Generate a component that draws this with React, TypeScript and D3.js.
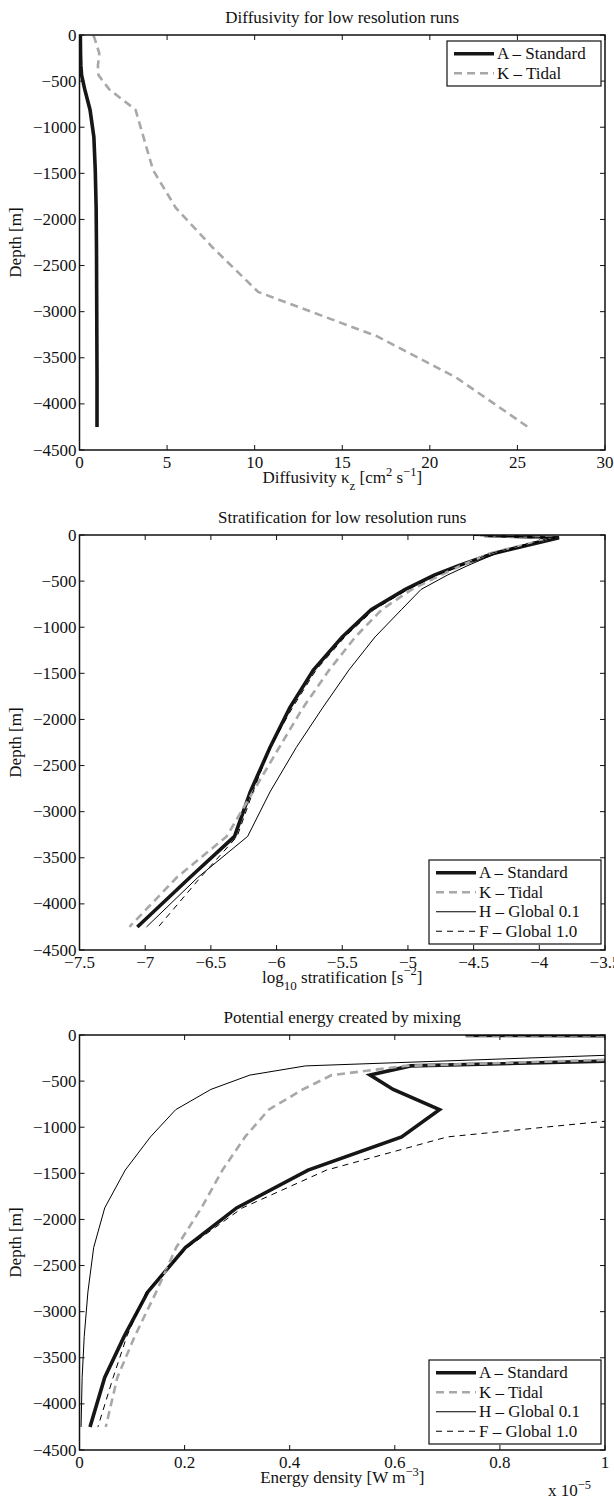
import React from 'react';
import * as d3 from 'd3';

// model depths (m)
const depths = [-5, -30, -200, -335, -435, -590, -810, -1105, -1465, -1875, -2304, -2786, -3268, -3714, -4250];

// Panel 1: diffusivity (cm^2 s^-1)
const diffA = [0.05, 0.05, 0.06, 0.08, 0.12, 0.3, 0.6, 0.82, 0.9, 0.95, 0.97, 0.98, 0.99, 1.0, 1.0];
const diffK = [0.79, 0.85, 1.13, 1.05, 1.08, 1.7, 3.2, 3.65, 4.2, 5.5, 7.6, 10.2, 17.0, 21.5, 25.6];

// Panel 2: log10 stratification
const stratA = [-4.42, -3.85, -4.35, -4.62, -4.8, -5.02, -5.28, -5.5, -5.72, -5.9, -6.05, -6.2, -6.32, -6.66, -7.06];
const stratK = [-4.45, -3.9, -4.38, -4.6, -4.75, -4.97, -5.2, -5.4, -5.6, -5.8, -5.98, -6.18, -6.38, -6.76, -7.12];
const stratH = [-4.45, -3.88, -4.33, -4.55, -4.7, -4.9, -5.05, -5.25, -5.45, -5.65, -5.85, -6.05, -6.22, -6.6, -6.99];
const stratF = [-4.5, -3.92, -4.37, -4.6, -4.78, -5.0, -5.26, -5.48, -5.7, -5.88, -6.05, -6.18, -6.3, -6.58, -6.9];

// Panel 3: potential energy (x 1e-5 W m^-3)
const peA = [0.735, 6, 1.6, 0.63, 0.553, 0.597, 0.685, 0.613, 0.435, 0.299, 0.2015, 0.13, 0.085, 0.048, 0.02];
const peK = [0.735, 6, 1.4, 0.62, 0.48, 0.425, 0.36, 0.315, 0.272, 0.232, 0.184, 0.146, 0.105, 0.072, 0.05];
const peH = [0.735, 6, 1.1, 0.43, 0.324, 0.25, 0.183, 0.135, 0.087, 0.048, 0.027, 0.016, 0.009, 0.005, 0.003];
const peF = [0.735, 6, 1.3, 1.6, 1.6, 1.45, 1.22, 0.7, 0.47, 0.31, 0.205, 0.127, 0.09, 0.064, 0.035];

const yTicks = [0, -500, -1000, -1500, -2000, -2500, -3000, -3500, -4000, -4500];
const diffTicks = [0, 5, 10, 15, 20, 25, 30];
const stratTicks = [-7.5, -7, -6.5, -6, -5.5, -5, -4.5, -4, -3.5];
const peTicks = [0, 0.2, 0.4, 0.6, 0.8, 1];

const names = { A: 'A \u2013 Standard', K: 'K \u2013 Tidal', H: 'H \u2013 Global 0.1', F: 'F \u2013 Global 1.0' };

const styles: Record<string, any> = {
  A: { stroke: '#161616', width: 3.6, dash: null },
  K: { stroke: '#a8a8a8', width: 2.6, dash: '8,5' },
  H: { stroke: '#000', width: 1, dash: null },
  F: { stroke: '#000', width: 1, dash: '6,5' },
};

const LEFT = 79.5;
const RIGHT = 605;
const PH = 415;
const FS = 17;
const FONT = '"Liberation Serif", "Times New Roman", serif';

const fmt = (v: number) => (v < 0 ? '\u2212' + String(Math.abs(v)) : String(v));

type Series = { key: string; values: number[] };

function Panel(props: {
  id: string;
  top: number;
  title: string;
  xDomain: [number, number];
  xTicks: number[];
  xLabel: React.ReactNode;
  series: Series[];
  legendW: number;
  extra?: React.ReactNode;
}) {
  const { id, top, title, xDomain, xTicks, xLabel, series, legendW, extra } = props;
  const x = d3.scaleLinear().domain(xDomain).range([LEFT, RIGHT]);
  const y = d3.scaleLinear().domain([0, -4500]).range([top, top + PH]);
  const bottom = top + PH;
  const line = (vals: number[]) =>
    d3.line<number>().x((v) => x(v)).y((_, i) => y(depths[i]))(vals) || '';
  const TL = 5;
  const rowH = 19.5;
  const lh = series.length * rowH + 6;
  const lx = RIGHT - 4 - legendW;
  const ly = series.length > 2 ? bottom - 6 - lh : top + 6;
  return (
    <g fontFamily={FONT} fill="#111">
      <defs>
        <clipPath id={id}>
          <rect x={LEFT} y={top} width={RIGHT - LEFT} height={PH} />
        </clipPath>
      </defs>
      <text x={(LEFT + RIGHT) / 2} y={top - 12} textAnchor="middle" fontSize={FS}>
        {title}
      </text>
      {/* ticks */}
      {xTicks.map((t) => (
        <g key={'x' + t}>
          <line x1={x(t)} x2={x(t)} y1={bottom} y2={bottom - TL} stroke="#111" strokeWidth={1} />
          <line x1={x(t)} x2={x(t)} y1={top} y2={top + TL} stroke="#111" strokeWidth={1} />
          <text x={x(t)} y={bottom + 18} textAnchor="middle" fontSize={FS}>
            {fmt(t)}
          </text>
        </g>
      ))}
      {yTicks.map((t) => (
        <g key={'y' + t}>
          <line x1={LEFT} x2={LEFT + TL} y1={y(t)} y2={y(t)} stroke="#111" strokeWidth={1} />
          <line x1={RIGHT} x2={RIGHT - TL} y1={y(t)} y2={y(t)} stroke="#111" strokeWidth={1} />
          <text x={LEFT - 3} y={y(t) + 5.5} textAnchor="end" fontSize={FS}>
            {fmt(t)}
          </text>
        </g>
      ))}
      <text
        transform={`translate(21,${top + PH / 2}) rotate(-90)`}
        textAnchor="middle"
        fontSize={FS}
      >
        Depth [m]
      </text>
      <text x={(LEFT + RIGHT) / 2} y={bottom + 33} textAnchor="middle" fontSize={FS}>
        {xLabel}
      </text>
      {/* data */}
      <g clipPath={`url(#${id})`}>
        {series.map((s) => {
          const st = styles[s.key];
          return (
            <path
              key={s.key}
              d={line(s.values)}
              fill="none"
              stroke={st.stroke}
              strokeWidth={st.width}
              strokeDasharray={st.dash || undefined}
              strokeLinejoin="miter"
            />
          );
        })}
      </g>
      <rect x={LEFT} y={top} width={RIGHT - LEFT} height={PH} fill="none" stroke="#111" strokeWidth={1.5} />
      {/* legend */}
      <g>
        <rect x={lx} y={ly} width={legendW} height={lh} fill="#fff" stroke="#111" strokeWidth={1.2} />
        {series.map((s, i) => {
          const st = styles[s.key];
          const cy = ly + 3 + rowH * (i + 0.5);
          return (
            <g key={'l' + s.key}>
              <line
                x1={lx + 7}
                x2={lx + 47}
                y1={cy}
                y2={cy}
                stroke={st.stroke}
                strokeWidth={st.width}
                strokeDasharray={st.dash || undefined}
              />
              <text x={lx + 50} y={cy + 5.5} fontSize={FS}>
                {(names as any)[s.key]}
              </text>
            </g>
          );
        })}
      </g>
      {extra}
    </g>
  );
}

export default function App() {
  return (
    <svg
      width={614}
      height={1500}
      style={{ position: 'absolute', left: 0, top: 0, background: '#fff' }}
    >
      <rect width={614} height={1500} fill="#fff" />
      <Panel
        id="c1"
        top={35}
        title="Diffusivity for low resolution runs"
        xDomain={[0, 30]}
        xTicks={diffTicks}
        legendW={154}
        series={[
          { key: 'A', values: diffA },
          { key: 'K', values: diffK },
        ]}
        xLabel={
          <>
            <tspan>Diffusivity κ</tspan>
            <tspan fontSize={13} dy={7}>z</tspan>
            <tspan dy={-7}> [cm</tspan>
            <tspan fontSize={12.5} dy={-7}>2</tspan>
            <tspan dy={7}> s</tspan>
            <tspan fontSize={12.5} dy={-7}>−1</tspan>
            <tspan dy={7}>]</tspan>
          </>
        }
      />
      <Panel
        id="c2"
        top={535}
        title="Stratification for low resolution runs"
        xDomain={[-7.5, -3.5]}
        xTicks={stratTicks}
        legendW={172}
        series={[
          { key: 'A', values: stratA },
          { key: 'K', values: stratK },
          { key: 'H', values: stratH },
          { key: 'F', values: stratF },
        ]}
        xLabel={
          <>
            <tspan>log</tspan>
            <tspan fontSize={13} dy={7}>10</tspan>
            <tspan dy={-7}> stratification [s</tspan>
            <tspan fontSize={12.5} dy={-8}>−2</tspan>
            <tspan dy={8}>]</tspan>
          </>
        }
      />
      <Panel
        id="c3"
        top={1035}
        title="Potential energy created by mixing"
        xDomain={[0, 1]}
        xTicks={peTicks}
        legendW={172}
        series={[
          { key: 'A', values: peA },
          { key: 'K', values: peK },
          { key: 'H', values: peH },
          { key: 'F', values: peF },
        ]}
        xLabel={
          <>
            <tspan>Energy density [W m</tspan>
            <tspan fontSize={12.5} dy={-7}>−3</tspan>
            <tspan dy={7}>]</tspan>
          </>
        }
        extra={
          <text x={548} y={1496} fontSize={FS} fontFamily={FONT}>
            <tspan>x 10</tspan>
            <tspan fontSize={12.5} dy={-7}>−5</tspan>
          </text>
        }
      />
    </svg>
  );
}
